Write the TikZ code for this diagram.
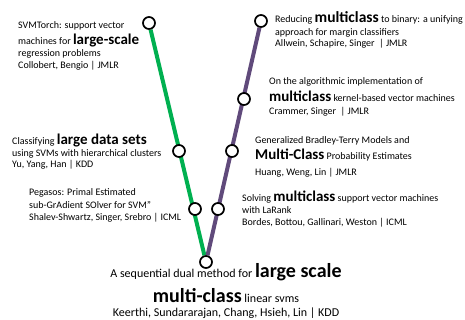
\documentclass[tikz,border=0pt]{standalone}
\usepackage{fontspec}
\setmainfont{Carlito}
\usetikzlibrary{backgrounds}
\definecolor{linegreen}{HTML}{00B050}
\definecolor{linepurple}{HTML}{604A7B}
\newcommand{\kw}[1]{{\fontsize{15}{12}\selectfont\bfseries #1}}
\newcommand{\bigkw}[1]{{\fontsize{20}{14}\selectfont\bfseries #1}}
\newcommand{\tightlines}{\lineskiplimit=-30pt\relax}

\begin{document}
\begin{tikzpicture}[x=1pt, y=-1pt, station/.style = {draw, circle, fill=white, line width=1.7pt, minimum size=12pt, inner sep=0pt}, paper/.style = {anchor=base west, align=left, inner sep=0pt, font=\fontsize{10}{12}\selectfont\tightlines}, track/.style = {line width=4pt}]
	\useasboundingbox (0,0) rectangle (465,320);
	% stations
	\node[station] (g1) at (149,23) {};
	\node[station] (g2) at (179,151) {};
	\node[station] (g3) at (195,209) {};
	\node[station] (p1) at (261,21) {};
	\node[station] (p2) at (244,99) {};
	\node[station] (p3) at (232,151) {};
	\node[station] (p4) at (218,209) {};
	\node[station] (bot) at (206,262) {};
	\begin{pgfonlayer}{background}
		\draw[track, linegreen] (g1) -- (bot);
		\draw[track, linepurple] (p1) -- (bot);
	\end{pgfonlayer}
	% papers (placed at the baseline of their last line)
	\node[paper] (t1) at (18,68.5) {SVMTorch: support vector\\[4.5pt] machines for \kw{large-scale}\\[-0.5pt] regression problems\\ Collobert, Bengio | JMLR};
	\node[paper] (t2) at (275,46.5) {Reducing {\fontsize{15.5}{12}\selectfont\bfseries multiclass} to binary: a unifying\\[0.5pt] approach for margin classifiers\\[-1pt] Allwein, Schapire, Singer \ | JMLR};
	\node[paper] (t3) at (269,114.5) {On the algorithmic implementation of\\[5.5pt] \kw{multiclass} kernel-based vector machines\\[0.5pt] Crammer, Singer \ | JMLR};
	\node[paper] (t4) at (12,167.5) {Classifying \kw{large data sets}\\[0.5pt] using SVMs with hierarchical clusters\\[-1.5pt] Yu, Yang, Han | KDD};
	\node[paper] (t5) at (255,175.5) {Generalized Bradley-Terry Models and\\[4.5pt] \kw{Multi-Class} Probability Estimates\\[3.5pt] Huang, Weng, Lin | JMLR};
	\node[paper] (t6) at (29,220.5) {Pegasos: Primal Estimated\\[1pt] sub-GrAdient SOlver for SVM"\\ Shalev-Shwartz, Singer, Srebro | ICML};
	\node[paper] (t7) at (242,225.5) {Solving \kw{multiclass} support vector machines\\[-0.5pt] with LaRank\\ Bordes, Bottou, Gallinari, Weston | ICML};
	\node[anchor=base, align=center, inner sep=0pt, font=\fontsize{12}{14}\selectfont\tightlines] (t8) at (226,316.5) {A sequential dual method for \bigkw{large scale}\\[11pt] \bigkw{multi-class} linear svms\\[0.5pt] Keerthi, Sundararajan, Chang, Hsieh, Lin | KDD};
\end{tikzpicture}
\end{document}
